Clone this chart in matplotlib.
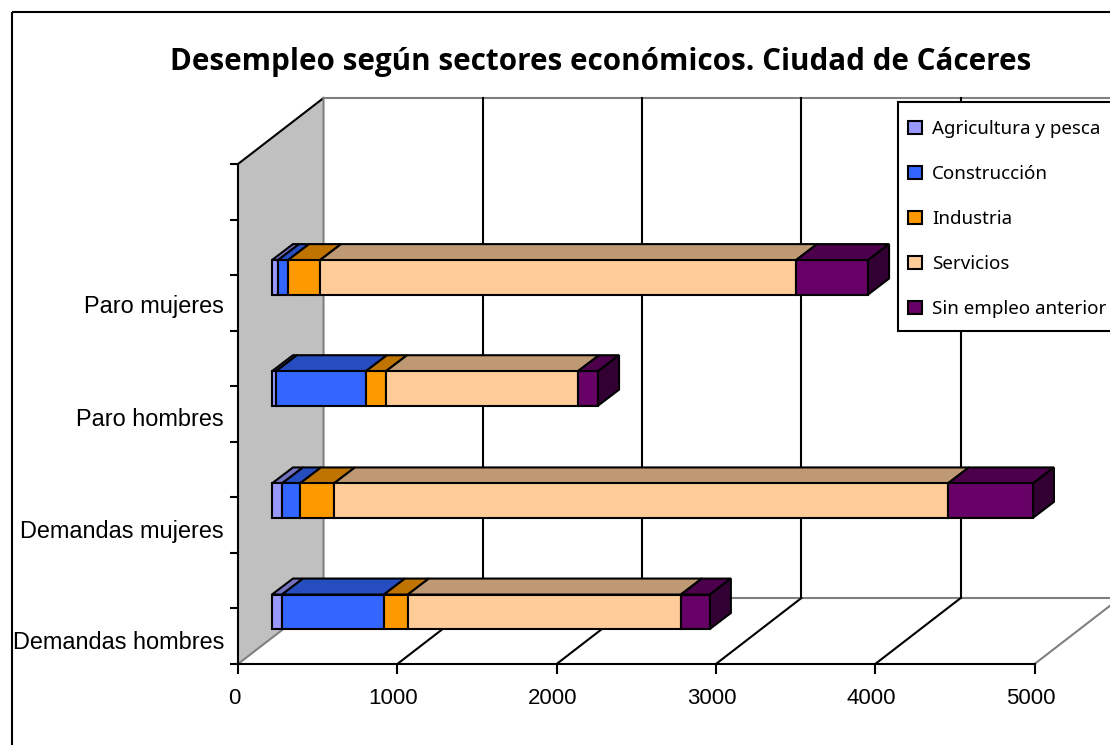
import matplotlib
matplotlib.use('Agg')
import matplotlib.pyplot as plt
from matplotlib.patches import Patch, Rectangle
from matplotlib.transforms import Affine2D, ScaledTranslation

# values
categories = ['Demandas hombres', 'Demandas mujeres', 'Paro hombres', 'Paro mujeres']
sectors = ['Agricultura y pesca', 'Construcción', 'Industria', 'Servicios', 'Sin empleo anterior']
agricultura = [63, 63, 25, 38]
construccion = [640, 113, 565, 63]
industria = [150, 213, 126, 201]
servicios = [1714, 3854, 1205, 2988]
sin_empleo = [182, 534, 126, 452]
series = [agricultura, construccion, industria, servicios, sin_empleo]
x_ticks = [0, 1000, 2000, 3000, 4000, 5000]

front_colors = ['#9999FF', '#3366FF', '#FF9900', '#FFCC99', '#660066']
top_colors = ['#7373BF', '#264DBF', '#BF7300', '#BF9973', '#4C004C']
side_color = '#330033'

W, H = 1110, 745
LW = 1.5
fig = plt.figure(figsize=(W / 100, H / 100), dpi=100)
ax = fig.add_axes([238 / W, (H - 664) / H, 796.5 / W, 500 / H])
ax.set_xlim(0, 5000)
ax.set_ylim(0, 4.5)

px = Affine2D().scale(1 / W, -1 / H).translate(0, 1) + fig.transFigure

# depth of the fake 3D box, in data units
depth_x = 537
depth_y = 0.594
bar_left = 213          # bars float inside the box
bar_dx = 132
bar_dy = 0.144
bar_h = 0.31
bar_pos = [0.47, 1.47, 2.48, 3.48]

# outer frame of the chart
ax.add_patch(Rectangle((12, 12), 1200, 900, transform=px, fill=False, ec='black',
                       lw=LW, clip_on=False, zorder=0))

# grey side wall, floor and back wall
ax.fill([0, depth_x, depth_x, 0], [4.5, 4.5 + depth_y, depth_y, 0], color='#C0C0C0',
        clip_on=False, zorder=1, lw=0)
ax.plot([0, depth_x], [4.5, 4.5 + depth_y], color='black', lw=LW, clip_on=False, zorder=2)
ax.plot([0, depth_x, depth_x], [0, depth_y, 4.5 + depth_y], color='#808080', lw=LW,
        clip_on=False, zorder=2)
ax.plot([depth_x, 5000 + depth_x], [depth_y, depth_y], color='#808080', lw=LW,
        clip_on=False, zorder=2)
ax.plot([depth_x, 5000 + depth_x], [4.5 + depth_y, 4.5 + depth_y], color='#808080', lw=LW,
        clip_on=False, zorder=2)
ax.plot([5000, 5000 + depth_x], [0, depth_y], color='#808080', lw=LW, clip_on=False, zorder=2)
for t in x_ticks[1:-1]:
    ax.plot([t + depth_x, t + depth_x], [depth_y, 4.5 + depth_y], color='black', lw=LW,
            clip_on=False, zorder=2)
    ax.plot([t, t + depth_x], [0, depth_y], color='black', lw=LW, clip_on=False, zorder=2)

# stacked bars
for i, y in enumerate(bar_pos):
    left = bar_left
    for j, vals in enumerate(series):
        v = vals[i]
        ax.barh(y, v, left=left, height=bar_h, color=front_colors[j], edgecolor='black',
                lw=LW, zorder=4, clip_on=False)
        top = y + bar_h / 2
        ax.fill([left, left + v, left + v + bar_dx, left + bar_dx],
                [top, top, top + bar_dy, top + bar_dy], fc=top_colors[j], ec='black',
                lw=LW, zorder=3, clip_on=False)
        left += v
    bottom = y - bar_h / 2
    ax.fill([left, left + bar_dx, left + bar_dx, left],
            [bottom, bottom + bar_dy, top + bar_dy, top], fc=side_color, ec='black',
            lw=LW, zorder=3, clip_on=False)

# axes
for s in ['top', 'right']:
    ax.spines[s].set_visible(False)
for s in ['left', 'bottom']:
    ax.spines[s].set_linewidth(LW)
    ax.spines[s].set_zorder(3)
ax.patch.set_visible(False)
ax.set_xticks(x_ticks)
ax.set_yticks([k * 0.5 for k in range(10)])
ax.set_yticklabels([])
ax.set_yticks([0.216, 1.216, 2.225, 3.24], minor=True)
ax.set_yticklabels(categories, minor=True, family='Liberation Sans', fontsize=16.9)
ax.tick_params(axis='y', which='major', length=6, width=LW)
ax.tick_params(axis='y', which='minor', length=0, pad=10)
ax.tick_params(axis='x', length=7, width=LW, pad=10)
shift = ScaledTranslation(-4 / 72 * 0.72, 0, fig.dpi_scale_trans)
for lab in ax.get_xticklabels():
    lab.set_family('Liberation Sans')
    lab.set_fontsize(16)
    lab.set_transform(lab.get_transform() + shift)

fig.text(601 / W, 1 - 62 / H, 'Desempleo según sectores económicos. Ciudad de Cáceres',
         ha='center', va='center', fontsize=21.3, fontweight='bold', family='Open Sans')

# legend box runs off the right edge of the picture
ax.add_patch(Rectangle((898, 102), 400, 229, transform=px, fc='white', ec='black',
                       lw=LW, clip_on=False, zorder=10))
handles = [Patch(fc=c, ec='black', lw=LW) for c in front_colors]
leg = ax.legend(handles, sectors, loc='upper left', bbox_to_anchor=(908, 120),
                bbox_transform=px, frameon=False, borderaxespad=0, borderpad=0,
                handlelength=0.72, handleheight=0.72, handletextpad=0.57, labelspacing=1.44,
                prop={'family': 'Noto Sans', 'size': 13.5})
leg.set_zorder(11)

fig.savefig('out.png', dpi=100)
